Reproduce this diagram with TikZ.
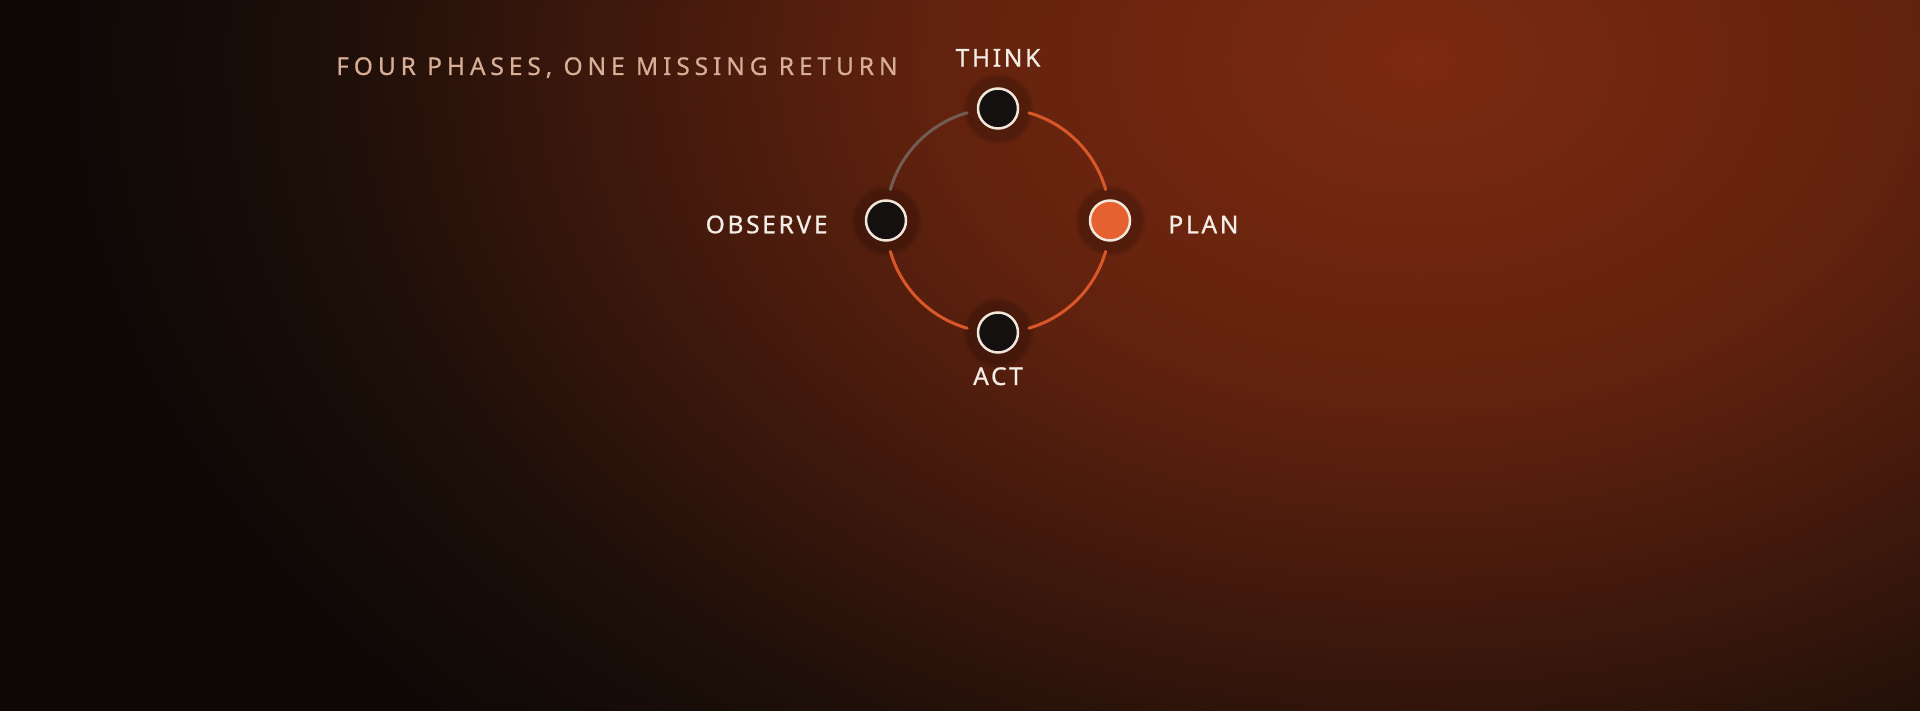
\documentclass[tikz,border=0pt]{standalone}
\usepackage{fontspec}
\setmainfont{Noto Sans}
\newfontfamily\phasefont[LetterSpace=11,FakeBold=0.8]{Noto Sans}
\newfontfamily\headfont[LetterSpace=20,FakeBold=0.4]{Noto Sans}
\usepackage{tikz}
\usetikzlibrary{positioning,shadows}

\definecolor{bgdark}{HTML}{0E0907}
\definecolor{emberA}{HTML}{7C2A10}
\definecolor{emberB}{HTML}{62220E}
\definecolor{emberC}{HTML}{3E180C}
\definecolor{emberD}{HTML}{1E0F09}
\definecolor{ringline}{HTML}{F0E6DA}
\definecolor{nodefill}{HTML}{141010}
\definecolor{planfill}{HTML}{E66130}
\definecolor{arcorange}{HTML}{DA572A}
\definecolor{arcfaded}{HTML}{735C53}
\definecolor{titlecolor}{HTML}{D8AF96}
\definecolor{namecolor}{HTML}{F4EDE6}

\pgfdeclareradialshading{emberglow}{\pgfpoint{0bp}{0bp}}{color(0bp)=(emberA); color(9bp)=(emberB); color(15bp)=(emberC); color(20bp)=(emberD); color(25bp)=(bgdark); color(50bp)=(bgdark)}

\begin{document}
\begin{tikzpicture}[x=1pt,y=1pt,
  phase/.style={circle,draw=ringline,line width=2.5pt,minimum size=40pt,inner sep=0pt,fill=nodefill,
    circular drop shadow={shadow xshift=0pt,shadow yshift=0pt,shadow scale=1.8,fill=black,opacity=0.2}},
  phasename/.style={inner sep=0pt,text=namecolor,font=\phasefont\fontsize{24.5}{28}\selectfont},
  titletext/.style={inner sep=0pt,text=titlecolor,font=\headfont\fontsize{24.5}{28}\selectfont},
  looparc/.style={draw=arcorange,line width=3pt,line cap=round},
  fadedarc/.style={draw=arcfaded,line width=3pt,line cap=round}]
\useasboundingbox (0,0) rectangle (1920,710);

% background
\fill[bgdark] (-4,-4) rectangle (1924,714);
\shade[shading=emberglow] (1420,650) ellipse [x radius=1350, y radius=950];

\node[titletext,anchor=base west] (title) at (336,635) {FOUR PHASES, ONE MISSING RETURN};

% the four phases
\node[phase] (think) at (998,601.5) {};
\node[phase,fill=planfill] (plan) at (1110,489.5) {};
\node[phase] (act) at (998,377.5) {};
\node[phase] (observe) at (886,489.5) {};

\node[phasename,above=20.5pt of think] (thinkname) {THINK};
\node[phasename,right=37pt of plan,yshift=-4pt] (planname) {PLAN};
\node[phasename,below=13.3pt of act] (actname) {ACT};
\node[phasename,left=37pt of observe,yshift=-4pt] (observename) {OBSERVE};

% arcs between phases
\draw[looparc] (think) ++(-8:31.2) arc[start angle=74, end angle=16, radius=112];
\draw[looparc] (plan) ++(-98:31.2) arc[start angle=-16, end angle=-74, radius=112];
\draw[looparc] (act) ++(172:31.2) arc[start angle=-106, end angle=-164, radius=112];
\draw[fadedarc] (observe) ++(82:31.2) arc[start angle=164, end angle=106, radius=112];
\end{tikzpicture}
\end{document}
